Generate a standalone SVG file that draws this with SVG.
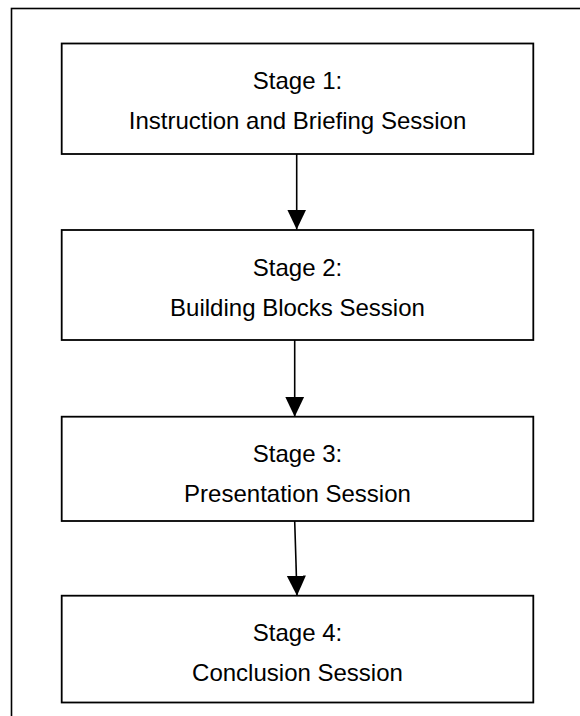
<svg xmlns="http://www.w3.org/2000/svg" width="580" height="716" viewBox="0 0 580 716">
<style>
.box{fill:#fff;stroke:#000;stroke-width:1.8}
.lbl{font-family:"Liberation Sans",Arial,sans-serif;font-size:24px;fill:#000;text-anchor:middle}
.conn{stroke:#000;stroke-width:1.6;fill:none;marker-end:url(#arr)}
</style>
<defs>
<marker id="arr" markerUnits="userSpaceOnUse" markerWidth="20" markerHeight="20" refX="21" refY="10" orient="auto" viewBox="0 0 21 20">
<path d="M0,0 L21,10 L0,20 z" fill="#000"/>
</marker>
</defs>
<rect x="11.5" y="8.5" width="620" height="760" fill="#fff" stroke="#000" stroke-width="1.6"/>
<g id="connectors">
<line class="conn" x1="296.7" y1="154" x2="296.7" y2="229.5"/>
<line class="conn" x1="294.7" y1="340" x2="294.7" y2="416.7"/>
<line class="conn" x1="294.7" y1="521" x2="297" y2="595.7"/>
</g>
<g id="stage1">
<rect class="box" x="61.7" y="43.5" width="471.6" height="110.5"/>
<text class="lbl" x="297.5" y="89">Stage 1:</text>
<text class="lbl" x="297.5" y="129">Instruction and Briefing Session</text>
</g>
<g id="stage2">
<rect class="box" x="61.7" y="230" width="471.6" height="110"/>
<text class="lbl" x="297.5" y="275.5">Stage 2:</text>
<text class="lbl" x="297.5" y="315.5">Building Blocks Session</text>
</g>
<g id="stage3">
<rect class="box" x="61.7" y="416.7" width="471.6" height="104.3"/>
<text class="lbl" x="297.5" y="461.7">Stage 3:</text>
<text class="lbl" x="297.5" y="501.7">Presentation Session</text>
</g>
<g id="stage4">
<rect class="box" x="61.7" y="595.7" width="471.6" height="106.8"/>
<text class="lbl" x="297.5" y="640.7">Stage 4:</text>
<text class="lbl" x="297.5" y="680.7">Conclusion Session</text>
</g>
</svg>
